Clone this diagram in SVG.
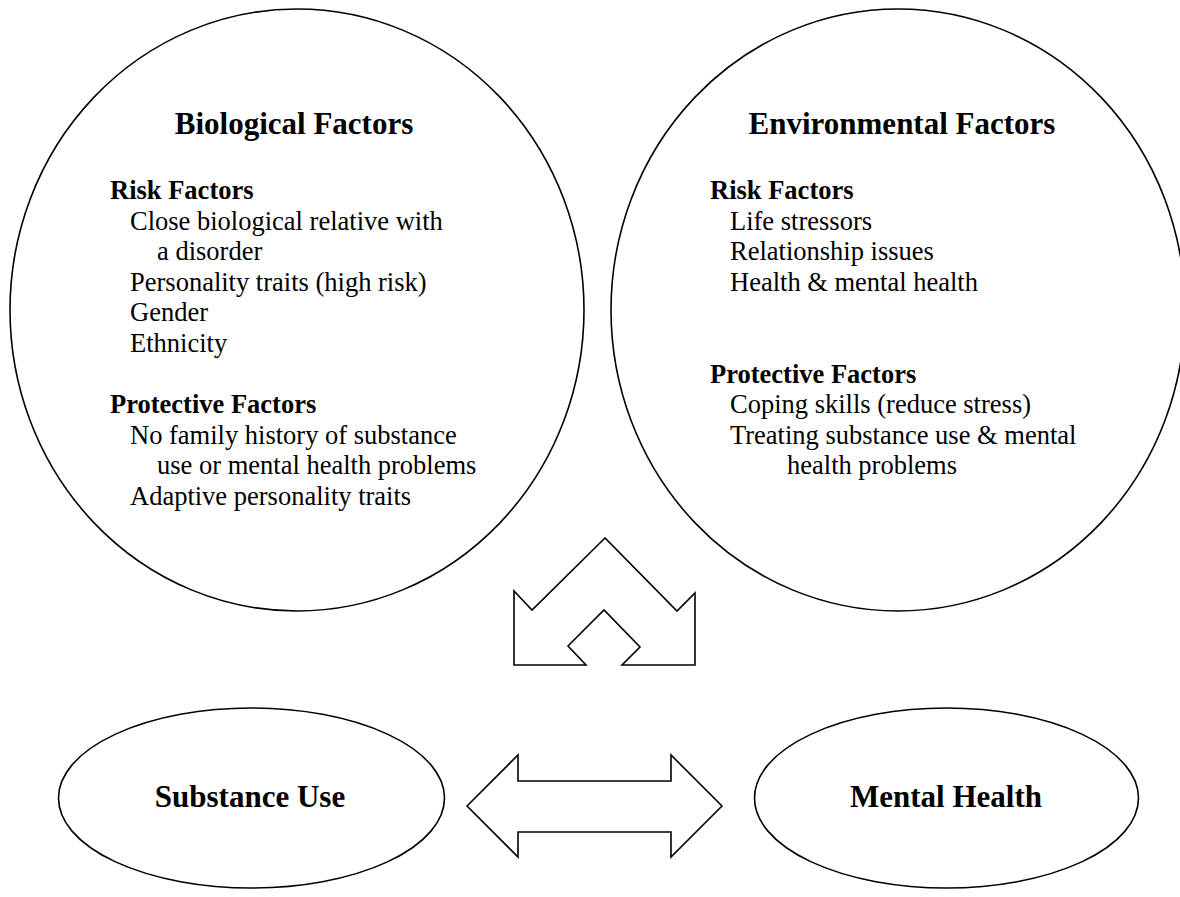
<svg xmlns="http://www.w3.org/2000/svg" width="1180" height="897" viewBox="0 0 1180 897">
<style>
.shape{fill:#fff;stroke:#000;stroke-width:1.6}
.ttl{font-family:"Liberation Serif","Times New Roman",serif;font-size:31px;font-weight:bold;fill:#000}
.hd{font-family:"Liberation Serif","Times New Roman",serif;font-size:26.5px;font-weight:bold;fill:#000}
.tx{font-family:"Liberation Serif","Times New Roman",serif;font-size:26.5px;fill:#000}
</style>
<rect width="1180" height="897" fill="#fff"/>
<g id="biological">
<ellipse class="shape" cx="297" cy="310" rx="287" ry="301"/>
<text class="ttl" x="294" y="134" text-anchor="middle">Biological Factors</text>
<text class="hd" x="110" y="199">Risk Factors</text>
<text class="tx" x="130" y="229.6">Close biological relative with</text>
<text class="tx" x="157" y="260.2">a disorder</text>
<text class="tx" x="130" y="290.8">Personality traits (high risk)</text>
<text class="tx" x="130" y="321.4">Gender</text>
<text class="tx" x="130" y="352">Ethnicity</text>
<text class="hd" x="110" y="413.2">Protective Factors</text>
<text class="tx" x="130" y="443.8">No family history of substance</text>
<text class="tx" x="157" y="474.4">use or mental health problems</text>
<text class="tx" x="130" y="505">Adaptive personality traits</text>
</g>
<g id="environmental">
<ellipse class="shape" cx="898" cy="310" rx="287" ry="301"/>
<text class="ttl" x="902" y="134" text-anchor="middle">Environmental Factors</text>
<text class="hd" x="710" y="199">Risk Factors</text>
<text class="tx" x="730" y="229.6">Life stressors</text>
<text class="tx" x="730" y="260.2">Relationship issues</text>
<text class="tx" x="730" y="290.8">Health &amp; mental health</text>
<text class="hd" x="710" y="382.6">Protective Factors</text>
<text class="tx" x="730" y="413.2">Coping skills (reduce stress)</text>
<text class="tx" x="730" y="443.8">Treating substance use &amp; mental</text>
<text class="tx" x="787" y="474.4">health problems</text>
</g>
<g id="substance-use">
<ellipse class="shape" cx="251.5" cy="798" rx="193" ry="90"/>
<text class="ttl" x="250" y="807" text-anchor="middle">Substance Use</text>
</g>
<g id="mental-health">
<ellipse class="shape" cx="946.5" cy="798" rx="192" ry="90"/>
<text class="ttl" x="946" y="807" text-anchor="middle">Mental Health</text>
</g>
<g id="connectors">
<polygon class="shape" points="605,538 532,610 514,591 514,665 586,665 568,646 604,610 640,647 622,665 695,665 695,593 677,611"/>
<polygon class="shape" points="467,806 518,755 518,781 671,781 671,755 722,806 671,857 671,832 518,832 518,857"/>
</g>
</svg>
